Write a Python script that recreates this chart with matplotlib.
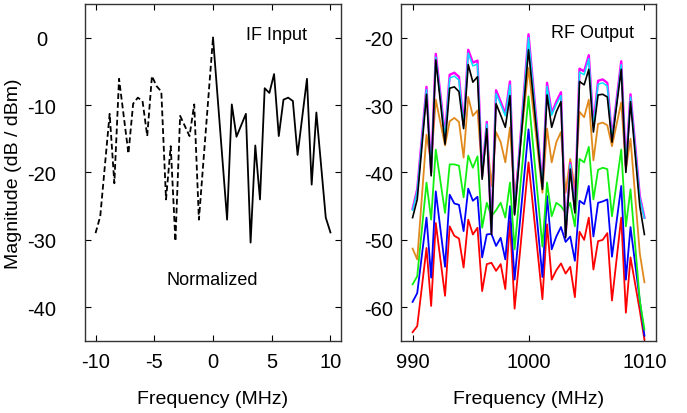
import numpy as np
import matplotlib
matplotlib.use("Agg")
import matplotlib.pyplot as plt

plt.rcParams['font.family'] = ['Liberation Sans', 'DejaVu Sans']
plt.rcParams['axes.unicode_minus'] = False

# frequency offsets (MHz) of the sample points
freq_if = [-10, -9.6, -8.8, -8.4, -8.0, -7.2, -6.8, -6.4, -6.0, -5.6, -5.2,
           -4.8, -4.4, -4.0, -3.6, -3.2, -2.8, -2.4, -2.0, -1.6, -1.2, 0,
           1.2, 1.6, 2.0, 2.4, 2.8, 3.2, 3.6, 4.0, 4.4, 4.8, 5.2, 5.6, 6.0,
           6.4, 6.8, 7.2, 8.0, 8.4, 8.8, 9.6, 10]
lo_freq = 1000

# IF input spectrum (normalized, dB)
if_mag = [-29.0, -26.5, -11.3, -21.6, -6.1, -17.2, -9.8, -8.9, -9.4, -14.6, -5.7,
          -7.2, -8.0, -24.0, -16.1, -30.2, -11.6, -13.1, -14.6, -9.9, -27.0, 0.0,
          -27.0, -9.9, -14.7, -13.0, -11.3, -30.4, -16.0, -24.0, -7.5, -8.2, -5.4,
          -14.6, -9.2, -8.9, -9.4, -17.4, -6.1, -21.8, -11.1, -26.7, -28.9]

# RF output spectra (dBm), one per drive level
rf_red = [-63.7, -62.8, -51.2, -59.8, -47.5, -58.3, -48.0, -49.4, -49.8, -54.1, -47.0,
          -49.2, -48.2, -57.6, -53.6, -53.4, -54.6, -53.6, -57.3, -47.2, -60.2, -38.5,
          -58.8, -47.7, -55.9, -54.5, -53.5, -55.0, -54.0, -58.5, -48.8, -50.0, -46.7,
          -54.4, -50.2, -50.0, -49.0, -59.0, -46.7, -60.8, -52.6, -60.5, -64.8]
rf_blue = [-59.2, -57.9, -46.7, -55.6, -42.8, -54.0, -43.3, -44.6, -44.8, -48.7, -42.4,
           -44.2, -43.6, -52.6, -49.2, -49.1, -50.9, -49.7, -52.9, -45.0, -55.9, -33.6,
           -55.5, -43.5, -51.4, -49.5, -48.1, -50.3, -49.5, -53.1, -44.2, -44.7, -42.0,
           -49.5, -44.5, -44.3, -44.0, -52.5, -42.0, -55.9, -48.1, -59.0, -64.2]
rf_green = [-56.6, -55.4, -41.5, -47.0, -36.6, -46.0, -38.8, -38.8, -39.0, -43.7, -37.5,
            -39.3, -37.6, -48.2, -44.5, -46.5, -45.6, -44.5, -46.7, -41.5, -51.4, -28.7,
            -51.0, -41.5, -46.5, -44.5, -45.0, -46.0, -44.5, -48.0, -38.0, -38.5, -36.2,
            -44.0, -39.6, -39.3, -39.5, -46.5, -36.6, -48.0, -42.5, -59.0, -63.3]
rf_orange = [-51.3, -52.9, -34.4, -38.6, -29.2, -36.0, -32.4, -31.9, -32.5, -37.8, -28.8,
             -31.6, -30.8, -40.0, -34.5, -42.0, -34.0, -35.5, -38.5, -33.3, -44.0, -24.5,
             -43.0, -33.5, -38.5, -35.5, -34.0, -43.0, -38.0, -42.5, -31.0, -31.8, -29.2,
             -38.2, -32.8, -32.6, -33.0, -36.1, -29.6, -39.5, -35.0, -52.0, -56.3]
rf_black = [-46.7, -44.0, -28.4, -40.5, -23.3, -35.8, -27.5, -27.3, -28.0, -33.5, -24.0,
            -26.6, -25.8, -41.0, -33.5, -49.2, -29.8, -31.5, -33.3, -28.6, -46.3, -21.8,
            -42.5, -28.5, -33.3, -31.0, -29.5, -49.7, -39.5, -46.0, -26.5, -27.0, -24.7,
            -34.0, -28.5, -28.4, -28.8, -35.5, -24.7, -40.0, -29.5, -45.0, -49.2]
rf_cyan = [-45.6, -42.8, -27.7, -40.2, -22.9, -34.8, -26.0, -25.7, -26.3, -33.2, -22.3,
           -24.2, -23.9, -40.6, -32.8, -49.0, -28.3, -29.9, -31.6, -27.0, -46.1, -20.0,
           -42.2, -27.2, -31.5, -29.9, -28.6, -49.4, -38.8, -45.7, -25.1, -25.5, -23.1,
           -33.3, -26.9, -26.7, -27.2, -35.1, -24.0, -39.2, -28.8, -43.8, -46.8]
rf_magenta = [-45.4, -42.5, -27.3, -40.0, -22.4, -34.5, -25.5, -25.2, -25.8, -33.0, -21.8,
              -23.7, -23.4, -40.5, -32.5, -49.0, -27.8, -29.5, -31.3, -26.5, -46.0, -19.5,
              -42.0, -26.7, -31.2, -29.5, -28.1, -49.3, -38.6, -45.5, -24.6, -25.0, -22.6,
              -33.0, -26.4, -26.2, -26.7, -34.9, -23.5, -39.0, -28.4, -43.5, -46.7]

fx = np.array(freq_if)
mag = np.array(if_mag)

fig = plt.figure(figsize=(6.87, 4.14), dpi=100)
ax1 = fig.add_axes([0.1237, 0.174, 0.3727, 0.814])
ax2 = fig.add_axes([0.5837, 0.174, 0.3712, 0.814])

# left: IF input, dashed for lower side, solid for upper side
neg = fx <= 0
pos = fx >= 0
ax1.plot(fx[neg], mag[neg], color='black', lw=1.3, linestyle=(0, (3.2, 1.7)))
ax1.plot(fx[pos], mag[pos], color='black', lw=1.3)
ax1.set_xlim(-10.9, 10.9)
ax1.set_ylim(-45, 5)
ax1.set_xticks([-10, -5, 0, 5, 10])
ax1.set_yticks([0, -10, -20, -30, -40])
ax1.text(5.4, 0.4, 'IF Input', ha='center', va='center', fontsize=13)
ax1.text(-0.1, -35.9, 'Normalized', ha='center', va='center', fontsize=13)
ax1.set_xlabel('Frequency (MHz)', fontsize=14)
ax1.set_ylabel('Magnitude (dB / dBm)', fontsize=14)

# right: RF output at several drive levels
rf_x = fx + lo_freq
series = [(rf_red, '#ff0000', 1.3), (rf_blue, '#0000ff', 1.3),
          (rf_green, '#11f011', 1.3), (rf_orange, '#e08a1e', 1.3),
          (rf_magenta, '#ff00ff', 1.7), (rf_cyan, '#00e5ff', 1.1),
          (rf_black, '#000000', 1.2)]
for vals, c, lw in series:
    ax2.plot(rf_x, vals, color=c, lw=lw)
ax2.set_xlim(989, 1011)
ax2.set_ylim(-65, -15)
ax2.set_xticks([990, 1000, 1010])
ax2.set_yticks([-20, -30, -40, -50, -60])
ax2.text(1005.5, -19.3, 'RF Output', ha='center', va='center', fontsize=13)
ax2.set_xlabel('Frequency (MHz)', fontsize=14)

for ax in (ax1, ax2):
    ax.tick_params(direction='in', top=True, right=True, length=4, width=0.8,
                   labelsize=14.5)
    ax.tick_params(axis='x', pad=8)
    for s in ax.spines.values():
        s.set_color('#333333')
        s.set_linewidth(1.0)
    ax.xaxis.set_label_coords(0.5, -0.145)

# left panel tick labels sit centred, well away from the spine
ax1.tick_params(axis='y', pad=31)
for lab in ax1.get_yticklabels():
    lab.set_horizontalalignment('center')
ax2.tick_params(axis='y', pad=6)
ax1.yaxis.set_label_coords(-0.245, 0.5)

fig.savefig('out.png', dpi=100)
